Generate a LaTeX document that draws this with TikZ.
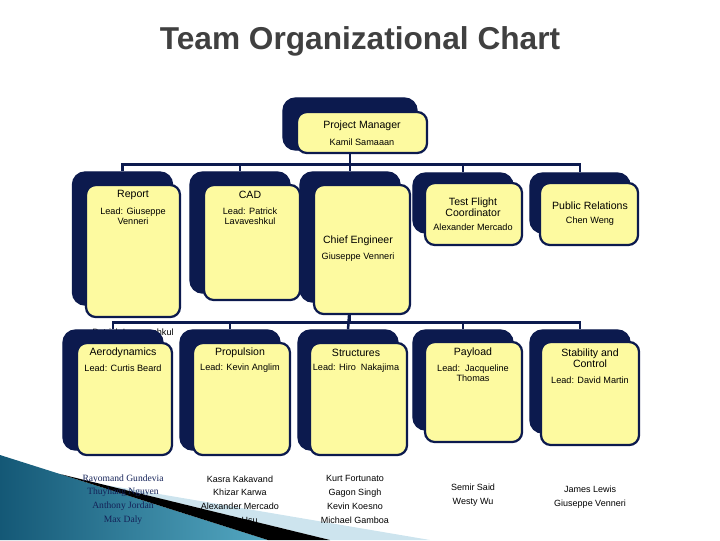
\documentclass[tikz,border=0pt]{standalone}
\usepackage{fontspec}
\setmainfont{Liberation Sans}
\newfontfamily\crewserif{Liberation Serif}
\usetikzlibrary{positioning, backgrounds}
\definecolor{boxnavy}{RGB}{12,26,78}
\definecolor{boxyellow}{RGB}{253,250,160}
\definecolor{titlegray}{RGB}{64,64,64}
\definecolor{crewnavy}{RGB}{20,34,88}
\definecolor{tealdark}{RGB}{20,88,118}
\definecolor{teallight}{RGB}{84,168,194}
\definecolor{paleblue}{RGB}{205,228,238}
\tikzset{
  shadowbox/.style = {rounded corners=9pt, fill=boxnavy, draw=boxnavy, line width=1pt,
                      minimum width=2.5cm, inner sep=0pt},
  cardbox/.style   = {rounded corners=7pt, fill=boxyellow, draw=boxnavy, line width=1.6pt,
                      minimum width=2.4cm, inner sep=0pt},
  ttl/.style       = {font=\fontsize{7.5}{8}\selectfont, align=center, inner sep=0pt},
  lead/.style      = {font=\fontsize{6.5}{7.2}\selectfont, align=center, inner sep=0pt},
  crew/.style      = {font=\fontsize{6.4}{9.8}\selectfont, align=center, inner sep=0pt},
  conn/.style      = {draw=boxnavy, line width=1.8pt},
}

\begin{document}
\begin{tikzpicture}[x=0.025cm, y=-0.025cm]
  \useasboundingbox (0,0) rectangle (720,540);

  % Title
  \node[font=\fontsize{22.5}{27}\selectfont\bfseries, text=titlegray] (title) at (360,41) {Team Organizational Chart};

  % Project manager
  \node[shadowbox, minimum width=3.35cm, minimum height=1.3cm] (pmb) at (350,124) {};
  \node[cardbox, minimum width=3.25cm, minimum height=1.025cm] (pm) at (362,132.5) {};
  \node[ttl] (pmttl) at (362,126) {Project Manager};
  \node[lead] (pmname) at (362,142) {Kamil Samaaan};

  % First row
  \node[shadowbox, minimum height=3.325cm] (repb) at (122.5,238.5) {};
  \node[cardbox, minimum width=2.35cm, minimum height=3.3cm] (rep) at (133,251) {};
  \node[ttl] (repttl) at (133,195) {Report};
  \node[lead] (replead) at (133,216) {Lead: Giuseppe\\Venneri};

  \node[shadowbox, minimum height=3.025cm] (cadb) at (240,232.5) {};
  \node[cardbox, minimum height=2.875cm] (cad) at (252,242.5) {};
  \node[ttl] (cadttl) at (250,195) {CAD};
  \node[lead] (cadlead) at (250,216) {Lead: Patrick\\Lavaveshkul};

  \node[shadowbox, minimum height=3.25cm] (ceb) at (350,237) {};
  \node[cardbox, minimum height=3.225cm] (ce) at (362,249.5) {};
  \node[ttl] (cettl) at (358,241) {Chief Engineer};
  \node[lead] (cename) at (358,257) {Giuseppe Venneri};

  \node[shadowbox, minimum height=1.5cm] (tfb) at (463,203) {};
  \node[cardbox, minimum width=2.425cm, minimum height=1.55cm] (tf) at (473.5,214) {};
  \node[ttl] (tfttl) at (473,207) {Test Flight\\Coordinator};
  \node[lead] (tfname) at (473,227) {Alexander Mercado};

  \node[shadowbox, minimum height=1.5cm] (prb) at (580,203) {};
  \node[cardbox, minimum width=2.45cm, minimum height=1.55cm] (pr) at (589,214) {};
  \node[ttl] (prttl) at (590,206) {Public Relations};
  \node[lead] (prname) at (590,221) {Chen Weng};

  % Second row
  \node[shadowbox, minimum height=3cm] (aerob) at (113,390) {};
  \node[cardbox, minimum width=2.375cm, minimum height=2.8cm] (aero) at (124.5,399) {};
  \node[ttl] (aerottl) at (123,353) {Aerodynamics};
  \node[lead] (aerolead) at (123,368) {Lead: Curtis Beard};

  \node[shadowbox, minimum height=3cm] (propb) at (230,390) {};
  \node[cardbox, minimum width=2.425cm, minimum height=2.8cm] (prop) at (241.5,399) {};
  \node[ttl] (propttl) at (240,353) {Propulsion};
  \node[lead] (proplead) at (240,368) {Lead: Kevin Anglim};

  \node[shadowbox, minimum height=3cm] (strb) at (348,390) {};
  \node[cardbox, minimum width=2.425cm, minimum height=2.8cm] (str) at (358.5,399) {};
  \node[ttl] (strttl) at (356,353) {Structures};
  \node[lead] (strlead) at (356,368) {Lead: Hiro\ \ Nakajima};

  \node[shadowbox, minimum height=2.5cm] (payb) at (463,380) {};
  \node[cardbox, minimum width=2.425cm, minimum height=2.5cm] (pay) at (473.5,392) {};
  \node[ttl] (payttl) at (473,353) {Payload};
  \node[lead] (paylead) at (473,373) {Lead:\ \ Jacqueline\\Thomas};

  \node[shadowbox, minimum height=2.575cm] (stabb) at (580,381.5) {};
  \node[cardbox, minimum width=2.45cm, minimum height=2.575cm] (stab) at (590,393.5) {};
  \node[ttl] (stabttl) at (590,358.5) {Stability and\\Control};
  \node[lead] (stablead) at (590,380) {Lead: David Martin};

  % Team members
  \node[crew, font=\crewserif\fontsize{6.8}{9.8}\selectfont, text=crewnavy] (aerocrew) at (123,499.5)
    {Rayomand Gundevia\\Thuyhang Nguyen\\Anthony Jordan\\Max Daly};
  \node[crew] (propcrew) at (240,499.5) {Kasra Kakavand\\Khizar Karwa\\Alexander Mercado\\Yilin Hsu};
  \node[crew] (strcrew) at (355,499.5) {Kurt Fortunato\\Gagon Singh\\Kevin Koesno\\Michael Gamboa};
  \node[crew] (paycrew) at (473,495) {Semir Said\\Westy Wu};
  \node[crew] (stabcrew) at (590,497.5) {James Lewis\\Giuseppe Venneri};

  \begin{pgfonlayer}{background}
    % Slide corner
    \fill[paleblue] (100,484) -- (430,540) -- (330,540) -- cycle;
    \shade[left color=tealdark, right color=teallight] (0,455) -- (268,540) -- (0,540) -- cycle;
    \fill[black] (60,474) -- (330,540) -- (268,540) -- cycle;

    % Links
    \draw[conn] (pmb.south) -- ++(0,14) -| (repb.north);
    \draw[conn] (pmb.south) -- ++(0,14) -| (cadb.north);
    \draw[conn] (pmb.south) -- (ceb.north);
    \draw[conn] (pmb.south) -- ++(0,14) -| (tfb.north);
    \draw[conn] (pmb.south) -- ++(0,14) -| (prb.north);

    \draw[conn] (ceb.south) -- ++(0,20) -| (aerob.north);
    \draw[conn] (ceb.south) -- ++(0,20) -| (propb.north);
    \draw[conn] (ceb.south) -- (strb.north);
    \draw[conn] (ceb.south) -- ++(0,20) -| (payb.north);
    \draw[conn] (ceb.south) -- ++(0,20) -| (stabb.north);

    % Label left behind the second row
    \node[lead] (cadhidden) at (133,332) {Patrick Lavaveshkul};
  \end{pgfonlayer}

\end{tikzpicture}
\end{document}
